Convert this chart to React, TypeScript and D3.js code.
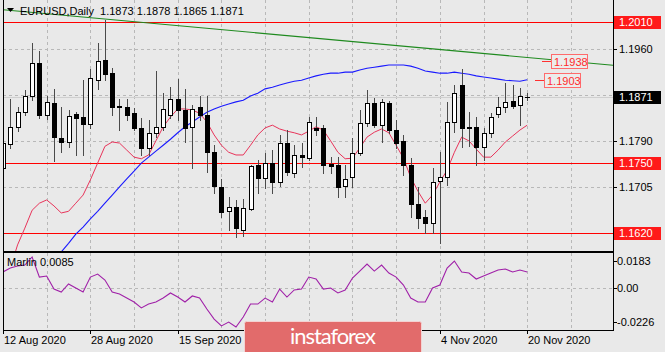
import { useEffect, useRef } from 'react'
import * as d3 from 'd3'

const W = 665
const H = 352

// trading days shown on the chart (12 Aug – 20 Nov 2020, weekdays)
const dates = d3.timeDay
  .range(new Date(2020, 7, 12), new Date(2020, 10, 21))
  .filter(d => d.getDay() !== 0 && d.getDay() !== 6)

const open = [
  1.1740, 1.1784, 1.1815, 1.1844, 1.1872, 1.1933, 1.1838, 1.1860, 1.1795, 1.1788,
  1.1840, 1.1834, 1.1821, 1.1902, 1.1939, 1.1915, 1.1854, 1.1852, 1.1842, 1.1814,
  1.1777, 1.1804, 1.1815, 1.1838, 1.1867, 1.1847, 1.1815, 1.1852, 1.1838, 1.1770,
  1.1705, 1.1660, 1.1668, 1.1626, 1.1664, 1.1745, 1.1721, 1.1749, 1.1714, 1.1786,
  1.1731, 1.1764, 1.1758, 1.1814, 1.1814, 1.1747, 1.1745, 1.1707, 1.1723, 1.1767,
  1.1823, 1.1860, 1.1819, 1.1860, 1.1810, 1.1789, 1.1745, 1.1673, 1.1649, 1.1638,
  1.1716, 1.1723, 1.1825, 1.1893, 1.1815, 1.1815, 1.1778, 1.1804, 1.1840, 1.1853,
  1.1864, 1.1856, 1.1873,
]
const high = [
  1.1805, 1.1867, 1.1852, 1.1884, 1.1970, 1.1956, 1.1872, 1.1886, 1.1852, 1.1847,
  1.1843, 1.1902, 1.1923, 1.1970, 1.2013, 1.1925, 1.1867, 1.1867, 1.1851, 1.1832,
  1.1829, 1.1919, 1.1878, 1.1889, 1.1904, 1.1886, 1.1856, 1.1872, 1.1872, 1.1782,
  1.1719, 1.1686, 1.1681, 1.1682, 1.1745, 1.1755, 1.1767, 1.1773, 1.1801, 1.1810,
  1.1782, 1.1786, 1.1834, 1.1834, 1.1819, 1.1760, 1.1760, 1.1745, 1.1795, 1.1847,
  1.1884, 1.1869, 1.1867, 1.1864, 1.1829, 1.1800, 1.1758, 1.1705, 1.1662, 1.1740,
  1.1769, 1.1862, 1.1893, 1.1923, 1.1843, 1.1834, 1.1813, 1.1841, 1.1871, 1.1897,
  1.1893, 1.1887, 1.1878,
]
const low = [
  1.1712, 1.1776, 1.1808, 1.1838, 1.1866, 1.1832, 1.1830, 1.1753, 1.1770, 1.1779,
  1.1764, 1.1764, 1.1814, 1.1886, 1.1903, 1.1838, 1.1810, 1.1829, 1.1810, 1.1764,
  1.1764, 1.1797, 1.1810, 1.1832, 1.1829, 1.1788, 1.1740, 1.1829, 1.1733, 1.1694,
  1.1649, 1.1626, 1.1612, 1.1614, 1.1662, 1.1694, 1.1703, 1.1694, 1.1707, 1.1727,
  1.1723, 1.1742, 1.1755, 1.1801, 1.1731, 1.1731, 1.1686, 1.1686, 1.1705, 1.1764,
  1.1817, 1.1815, 1.1788, 1.1804, 1.1777, 1.1727, 1.1649, 1.1629, 1.1620, 1.1620,
  1.1601, 1.1708, 1.1806, 1.1779, 1.1780, 1.1745, 1.1755, 1.1797, 1.1834, 1.1843,
  1.1851, 1.1819, 1.1865,
]
const close = [
  1.1786, 1.1815, 1.1844, 1.1872, 1.1933, 1.1838, 1.1862, 1.1798, 1.1788, 1.1836,
  1.1832, 1.1821, 1.1906, 1.1938, 1.1913, 1.1853, 1.1852, 1.1838, 1.1814, 1.1777,
  1.1804, 1.1815, 1.1849, 1.1867, 1.1847, 1.1814, 1.1849, 1.1838, 1.1770, 1.1707,
  1.1658, 1.1668, 1.1629, 1.1666, 1.1743, 1.1721, 1.1749, 1.1714, 1.1786, 1.1733,
  1.1764, 1.1760, 1.1825, 1.1811, 1.1746, 1.1743, 1.1705, 1.1719, 1.1767, 1.1823,
  1.1860, 1.1819, 1.1862, 1.1810, 1.1786, 1.1745, 1.1673, 1.1647, 1.1638, 1.1714,
  1.1723, 1.1825, 1.1878, 1.1814, 1.1814, 1.1778, 1.1804, 1.1834, 1.1853, 1.1862,
  1.1854, 1.1873, 1.1871,
]

// red moving average, from bar 1
const maFast = [
  1.1555, 1.1598, 1.1629, 1.1662, 1.1675, 1.1681, 1.1670, 1.1657, 1.1660, 1.1675,
  1.1690, 1.1718, 1.1749, 1.1780, 1.1788, 1.1786, 1.1773, 1.1760, 1.1757, 1.1764,
  1.1790, 1.1816, 1.1834, 1.1849, 1.1849, 1.1847, 1.1841, 1.1825, 1.1801, 1.1782,
  1.1769, 1.1764, 1.1764, 1.1782, 1.1801, 1.1814, 1.1819, 1.1812, 1.1808, 1.1805,
  1.1801, 1.1808, 1.1816, 1.1810, 1.1790, 1.1769, 1.1757, 1.1758, 1.1777, 1.1797,
  1.1806, 1.1812, 1.1805, 1.1782, 1.1758, 1.1723, 1.1697, 1.1675, 1.1690, 1.1714,
  1.1736, 1.1769, 1.1797, 1.1790, 1.1775, 1.1760, 1.1760, 1.1773, 1.1788, 1.1799,
  1.1810, 1.1819,
]
// blue moving average, from bar 8
const maSlow = [
  1.1585, 1.1601, 1.1618, 1.1631, 1.1646, 1.1660, 1.1675, 1.1690, 1.1705, 1.1720,
  1.1734, 1.1749, 1.1760, 1.1771, 1.1782, 1.1793, 1.1805, 1.1816, 1.1825, 1.1834,
  1.1843, 1.1849, 1.1854, 1.1858, 1.1862, 1.1865, 1.1873, 1.1878, 1.1886, 1.1889,
  1.1893, 1.1897, 1.1900, 1.1902, 1.1906, 1.1910, 1.1913, 1.1915, 1.1915, 1.1917,
  1.1917, 1.1921, 1.1924, 1.1926, 1.1928, 1.1930, 1.1930, 1.1930, 1.1928, 1.1924,
  1.1919, 1.1917, 1.1915, 1.1915, 1.1917, 1.1915, 1.1913, 1.1910, 1.1908, 1.1906,
  1.1904, 1.1902, 1.1901, 1.1900, 1.1903,
]
const marlin = [
  0.0109, 0.0135, 0.0149, 0.0155, 0.0209, 0.0075, 0.0082, -0.0005, -0.0025, 0.0029,
  0.0002, -0.0025, 0.0075, 0.0095, 0.0055, -0.0025, -0.0038, -0.0065, -0.0091, -0.0131,
  -0.0105, -0.0091, -0.0065, -0.0031, -0.0058, -0.0091, -0.0051, -0.0065, -0.0138, -0.0205,
  -0.0251, -0.0225, -0.0258, -0.0191, -0.0105, -0.0105, -0.0065, -0.0091, -0.0005, -0.0058,
  -0.0011, -0.0005, 0.0075, 0.0062, -0.0005, 0.0002, -0.0031, -0.0011, 0.0069, 0.0115,
  0.0162, 0.0115, 0.0155, 0.0102, 0.0075, 0.0022, -0.0065, -0.0091, -0.0091, 0.0002,
  0.0022, 0.0135, 0.0182, 0.0109, 0.0102, 0.0062, 0.0082, 0.0102, 0.0122, 0.0129,
  0.0109, 0.0122, 0.0109,
]
const marlinNow = 0.0085

const levels = [1.2010, 1.1750, 1.1620]
const priceTicks = [1.1960, 1.1875, 1.1790, 1.1705]
const priceLabels = [1.1960, 1.1790, 1.1705]
const marlinTicks = [0.0183, 0, -0.0226]
// 1 Oct and 19 Oct sit under the watermark in the original, so only these show
const dateTicks = ['12 Aug 2020', '28 Aug 2020', '15 Sep 2020', '4 Nov 2020', '20 Nov 2020']
const trendPts = [{ i: 0, p: 1.2032 }, { i: 72, p: 1.1944 }]
const notes = [1.1938, 1.1903]

const FONT = 'Liberation Sans, Arial, sans-serif'

export default function App() {
  const ref = useRef<SVGSVGElement>(null)

  useEffect(() => {
    document.body.style.margin = '0'
    if (!ref.current) return
    const svg = d3.select(ref.current)
    svg.selectAll('*').remove()

    const L = 3, R = 613, T = 0, B = 251, IT = 253, IB = 330
    const x = d3.scaleLinear().domain([0, 72]).range([3, 527.2])
    const y = d3.scaleLinear().domain([1.1620, 1.2010]).range([233, 21.7])
    const yi = d3.scaleLinear().domain([-0.0226, 0.0183]).range([322.2, 260.9])
    const fmt = d3.timeFormat('%-d %b %Y')
    const px = (v: number) => Math.round(v) + 0.5

    svg.append('rect').attr('width', W).attr('height', H).attr('fill', '#e9e9e9')

    const defs = svg.append('defs')
    defs.append('clipPath').attr('id', 'cm').append('rect')
      .attr('x', L).attr('y', T).attr('width', R - L).attr('height', B - T)
    defs.append('clipPath').attr('id', 'ci').append('rect')
      .attr('x', L).attr('y', IT).attr('width', R - L).attr('height', IB - IT)

    const main = svg.append('g').attr('clip-path', 'url(#cm)')
    const ind = svg.append('g').attr('clip-path', 'url(#ci)')

    // grid
    const gridIdx = d3.range(0, 84, 6)
    for (const g of [{ el: main, t: T, b: B }, { el: ind, t: IT, b: IB }]) {
      g.el.selectAll(null).data(gridIdx).enter().append('line')
        .attr('x1', d => px(x(d))).attr('x2', d => px(x(d)))
        .attr('y1', g.t).attr('y2', g.b)
        .attr('stroke', '#b8b8b8').attr('stroke-dasharray', '3,3')
    }
    main.selectAll(null).data(priceTicks).enter().append('line')
      .attr('x1', L).attr('x2', R).attr('y1', d => px(y(d))).attr('y2', d => px(y(d)))
      .attr('stroke', '#b8b8b8').attr('stroke-dasharray', '3,3')
    ind.append('line').attr('x1', L).attr('x2', R).attr('y1', px(yi(0))).attr('y2', px(yi(0)))
      .attr('stroke', '#b8b8b8').attr('stroke-dasharray', '3,3')

    // bid line
    main.append('line').attr('x1', L).attr('x2', R)
      .attr('y1', px(y(close[72]))).attr('y2', px(y(close[72])))
      .attr('stroke', '#cfcfcf')

    // horizontal levels
    main.selectAll(null).data(levels).enter().append('line')
      .attr('x1', L).attr('x2', R).attr('y1', d => px(y(d))).attr('y2', d => px(y(d)))
      .attr('stroke', '#ff0000')

    // green trend line, extended to the right edge
    const slope = (trendPts[1].p - trendPts[0].p) / (trendPts[1].i - trendPts[0].i)
    const iEnd = x.invert(R)
    main.append('line')
      .attr('x1', x(trendPts[0].i)).attr('y1', y(trendPts[0].p))
      .attr('x2', x(iEnd)).attr('y2', y(trendPts[0].p + slope * (iEnd - trendPts[0].i)))
      .attr('stroke', '#1f8a1f').attr('stroke-width', 1.1)

    const line = d3.line<[number, number]>().x(d => x(d[0])).y(d => y(d[1]))
    main.append('path').attr('d', line(maSlow.map((v, k) => [k + 8, v]))!)
      .attr('fill', 'none').attr('stroke', '#1a1aff').attr('stroke-width', 1.1)
    main.append('path').attr('d', line(maFast.map((v, k) => [k + 1, v]))!)
      .attr('fill', 'none').attr('stroke', '#e8345a').attr('stroke-width', 1)

    // candles
    const bars = dates.map((d, i) => ({ d, i, o: open[i], h: high[i], l: low[i], c: close[i] }))
    const cg = main.selectAll(null).data(bars).enter().append('g')
    cg.append('line')
      .attr('x1', d => px(x(d.i))).attr('x2', d => px(x(d.i)))
      .attr('y1', d => Math.round(y(d.h))).attr('y2', d => Math.round(y(d.l)) + 1)
      .attr('stroke', '#4a4a4a')
    cg.filter(d => d.i < 72).append('rect')
      .attr('x', d => Math.round(x(d.i)) - 2 + 0.5)
      .attr('y', d => Math.round(y(Math.max(d.o, d.c))) + 0.5)
      .attr('width', 4)
      .attr('height', d => Math.max(0.5, Math.round(y(Math.min(d.o, d.c))) - Math.round(y(Math.max(d.o, d.c)))))
      .attr('fill', d => (d.c >= d.o ? '#ffffff' : '#000000'))
      .attr('stroke', '#000')
    // current bar: tiny cross
    cg.filter(d => d.i === 72).append('line')
      .attr('x1', d => Math.round(x(d.i)) - 2).attr('x2', d => Math.round(x(d.i)) + 3)
      .attr('y1', d => px(y(d.c))).attr('y2', d => px(y(d.c)))
      .attr('stroke', '#000')

    // marlin
    ind.append('path')
      .attr('d', d3.line<number>().x((_, i) => x(i)).y(v => yi(v))(marlin)!)
      .attr('fill', 'none').attr('stroke', '#a020a8').attr('stroke-width', 1.1)

    // frames
    svg.append('line').attr('x1', L + 0.5).attr('x2', L + 0.5).attr('y1', 0).attr('y2', IB + 1).attr('stroke', '#000')
    svg.append('line').attr('x1', R + 0.5).attr('x2', R + 0.5).attr('y1', 0).attr('y2', IB + 1).attr('stroke', '#000')
    svg.append('rect').attr('x', L).attr('y', B).attr('width', R - L + 1).attr('height', 2).attr('fill', '#000')
    svg.append('line').attr('x1', L).attr('x2', R + 1).attr('y1', IB + 0.5).attr('y2', IB + 0.5).attr('stroke', '#000')

    // right price axis
    svg.selectAll(null).data(priceLabels).enter().append('line')
      .attr('x1', R).attr('x2', R + 4).attr('y1', d => px(y(d))).attr('y2', d => px(y(d))).attr('stroke', '#000')
    svg.selectAll(null).data(priceLabels).enter().append('text')
      .attr('x', 619).attr('y', d => y(d) + 4).attr('font-family', FONT).attr('font-size', 11)
      .attr('fill', '#000').text(d => d.toFixed(4))

    // level boxes
    const lv = svg.selectAll(null).data(levels).enter().append('g')
    lv.append('rect').attr('x', R + 1).attr('y', d => Math.round(y(d)) - 6).attr('width', 47).attr('height', 13).attr('fill', '#ff1a1a')
    lv.append('text').attr('x', 619).attr('y', d => y(d) + 4).attr('font-family', FONT).attr('font-size', 11)
      .attr('fill', '#fff').text(d => d.toFixed(4))

    // current price box
    svg.append('rect').attr('x', R + 1).attr('y', Math.round(y(close[72])) - 6).attr('width', 47).attr('height', 13).attr('fill', '#000')
    svg.append('text').attr('x', 619).attr('y', y(close[72]) + 4).attr('font-family', FONT).attr('font-size', 11)
      .attr('fill', '#fff').text(close[72].toFixed(4))

    // price notes
    const nx = [551, 544]
    notes.forEach((p, k) => {
      const yy = Math.round(y(p))
      svg.append('line').attr('x1', nx[k] - 9).attr('x2', nx[k]).attr('y1', yy + 0.5).attr('y2', yy + 0.5).attr('stroke', '#ff3030')
      svg.append('rect').attr('x', nx[k] + 0.5).attr('y', yy - 7 + 0.5).attr('width', 36).attr('height', 14)
        .attr('fill', '#ececec').attr('stroke', '#ff6b6b')
      svg.append('text').attr('x', nx[k] + 3).attr('y', yy + 4.5).attr('font-family', FONT).attr('font-size', 11)
        .attr('fill', '#ff2a2a').text(p.toFixed(4))
    })

    // marlin axis
    svg.selectAll(null).data(marlinTicks).enter().append('line')
      .attr('x1', R).attr('x2', R + 4).attr('y1', d => px(yi(d))).attr('y2', d => px(yi(d))).attr('stroke', '#000')
    svg.selectAll(null).data(marlinTicks).enter().append('text')
      .attr('x', 617).attr('y', d => yi(d) + 4).attr('font-family', FONT).attr('font-size', 11)
      .attr('fill', '#000').text(d => (d === 0 ? '0.00' : d.toFixed(4)))
    svg.append('text').attr('x', 7).attr('y', 266).attr('font-family', FONT).attr('font-size', 11)
      .attr('fill', '#000').text(`Marlin ${marlinNow.toFixed(4)}`)

    // date axis
    const dt = bars.filter(b => dateTicks.includes(fmt(b.d)))
    svg.selectAll(null).data(dt).enter().append('line')
      .attr('x1', d => px(x(d.i))).attr('x2', d => px(x(d.i))).attr('y1', IB).attr('y2', IB + 4).attr('stroke', '#000')
    svg.selectAll(null).data(dt).enter().append('text')
      .attr('x', d => Math.round(x(d.i)) + 1).attr('y', 344).attr('font-family', FONT).attr('font-size', 11)
      .attr('fill', '#000').text(d => fmt(d.d))

    // title
    svg.append('path').attr('d', 'M7,8 L14,8 L10.5,12 Z').attr('fill', '#000')
    svg.append('text').attr('x', 20).attr('y', 15).attr('font-family', FONT).attr('font-size', 11)
      .attr('fill', '#000').attr('xml:space', 'preserve')
      .text(`EURUSD,Daily  ${open[72].toFixed(4)} ${high[72].toFixed(4)} ${low[72].toFixed(4)} ${close[72].toFixed(4)}`)

    // watermark
    svg.append('rect').attr('x', 244.5).attr('y', 321.5).attr('width', 177).attr('height', 34).attr('rx', 2)
      .attr('fill', '#e26b6b').attr('stroke', '#f3d2d2')
    svg.append('text').attr('x', 333).attr('y', 344).attr('text-anchor', 'middle')
      .attr('font-family', 'Lato, Open Sans, sans-serif').attr('font-size', 22).attr('fill', '#fff')
      .attr('textLength', 86).text('instaforex')
  }, [])

  return <svg ref={ref} width={W} height={H} style={{ display: 'block' }} />
}
